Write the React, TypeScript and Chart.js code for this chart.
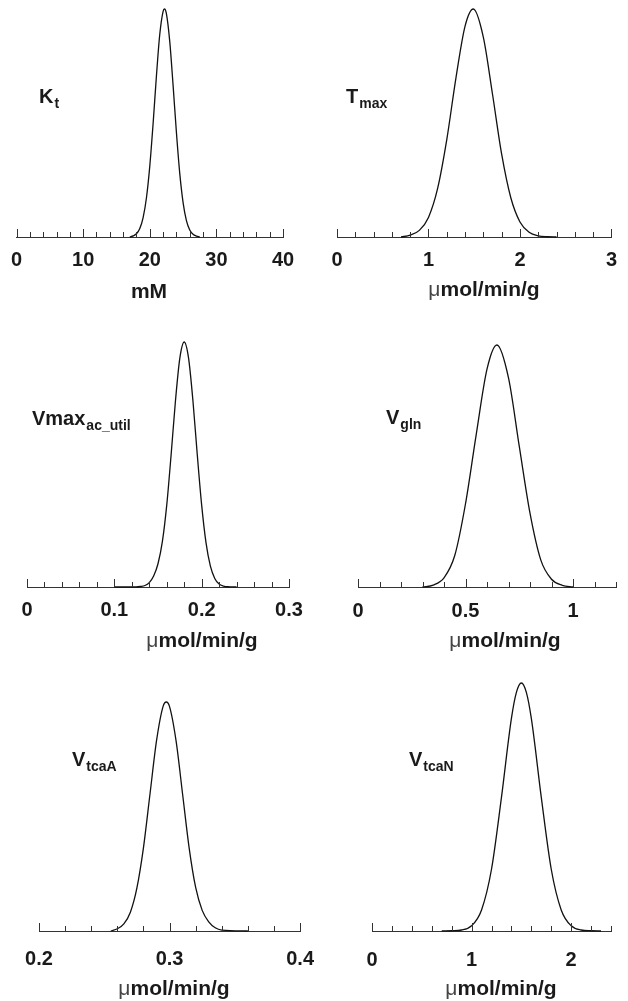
import React, { useEffect, useRef } from "react";
import { Chart, registerables } from "chart.js";

Chart.register(...registerables);

const FONT = '"Liberation Sans", Arial, Helvetica, sans-serif';

// ---------- data ----------
const ktX = [17, 17.5, 18, 18.5, 19, 19.5, 20, 20.5, 21, 21.5, 22, 22.2, 22.5, 23, 23.5, 24, 24.5, 25, 25.5, 26, 26.5, 27, 27.5];
const ktY = [0.0, 0.005, 0.014, 0.037, 0.085, 0.172, 0.311, 0.498, 0.707, 0.889, 0.99, 1.0, 0.979, 0.857, 0.665, 0.458, 0.279, 0.151, 0.072, 0.031, 0.012, 0.004, 0.0];
const ktTickValues = [0, 10, 20, 30, 40];
const ktTickLabels = ["0", "10", "20", "30", "40"];

const tmaxX = [0.7, 0.8, 0.9, 1.0, 1.1, 1.2, 1.3, 1.4, 1.49, 1.6, 1.7, 1.8, 1.9, 2.0, 2.1, 2.2, 2.3, 2.4];
const tmaxY = [0.0, 0.008, 0.029, 0.086, 0.213, 0.427, 0.697, 0.925, 1.0, 0.876, 0.626, 0.363, 0.172, 0.066, 0.021, 0.005, 0.001, 0.0];
const tmaxTickValues = [0, 1, 2, 3];
const tmaxTickLabels = ["0", "1", "2", "3"];

const vmaxX = [0.1, 0.125, 0.13, 0.135, 0.14, 0.145, 0.15, 0.155, 0.16, 0.165, 0.17, 0.175, 0.18, 0.185, 0.19, 0.195, 0.2, 0.205, 0.21, 0.215, 0.22, 0.225, 0.23, 0.24];
const vmaxY = [0.0, 0.0, 0.002, 0.006, 0.018, 0.045, 0.095, 0.185, 0.334, 0.539, 0.76, 0.934, 1.0, 0.934, 0.76, 0.539, 0.334, 0.18, 0.085, 0.035, 0.012, 0.004, 0.001, 0.0];
const vmaxTickValues = [0, 0.1, 0.2, 0.3];
const vmaxTickLabels = ["0", "0.1", "0.2", "0.3"];

const vglnX = [0.3, 0.35, 0.4, 0.45, 0.5, 0.55, 0.6, 0.646, 0.7, 0.75, 0.8, 0.85, 0.9, 0.95, 1.0];
const vglnY = [0.0, 0.008, 0.038, 0.13, 0.344, 0.631, 0.9, 1.0, 0.864, 0.582, 0.305, 0.112, 0.032, 0.007, 0.0];
const vglnTickValues = [0, 0.5, 1];
const vglnTickLabels = ["0", "0.5", "1"];

const vtcaAX = [0.255, 0.26, 0.265, 0.27, 0.275, 0.28, 0.285, 0.29, 0.295, 0.2975, 0.3, 0.305, 0.31, 0.315, 0.32, 0.325, 0.33, 0.335, 0.34, 0.36];
const vtcaAY = [0.0, 0.01, 0.031, 0.082, 0.188, 0.363, 0.597, 0.83, 0.98, 1.0, 0.98, 0.83, 0.597, 0.363, 0.19, 0.09, 0.04, 0.014, 0.004, 0.0];
const vtcaATickValues = [0.2, 0.3, 0.4];
const vtcaATickLabels = ["0.2", "0.3", "0.4"];

const vtcaNX = [0.7, 0.8, 0.9, 1.0, 1.1, 1.2, 1.3, 1.4, 1.45, 1.5, 1.55, 1.6, 1.7, 1.8, 1.9, 2.0, 2.1, 2.2, 2.3];
const vtcaNY = [0.0, 0.001, 0.004, 0.021, 0.085, 0.249, 0.539, 0.857, 0.962, 1.0, 0.962, 0.857, 0.539, 0.249, 0.085, 0.021, 0.004, 0.001, 0.0];
const vtcaNTickValues = [0, 1, 2];
const vtcaNTickLabels = ["0", "1", "2"];

// ---------- panel layout ----------
type Panel = {
  xs: number[];
  ys: number[];
  tickValues: number[];
  tickLabels: string[];
  min: number;
  max: number;
  step: number;
  label: string;
  sub: string;
  unitMu: string;
  unitRest: string;
  canvas: [number, number, number, number]; // left, top, width, height (page)
  area: [number, number, number, number]; // left, right, top, axisY (page)
  labelPos: [number, number];
  titlePos: [number, number];
  tickPad: number;
};

const panels: Panel[] = [
  {
    xs: ktX, ys: ktY, tickValues: ktTickValues, tickLabels: ktTickLabels,
    min: 0, max: 40, step: 2, label: "K", sub: "t", unitMu: "", unitRest: "mM",
    canvas: [0, 0, 330, 320], area: [15, 283, 9, 237],
    labelPos: [39, 103], titlePos: [149, 298], tickPad: 11,
  },
  {
    xs: tmaxX, ys: tmaxY, tickValues: tmaxTickValues, tickLabels: tmaxTickLabels,
    min: 0, max: 3, step: 0.2, label: "T", sub: "max", unitMu: "\u03bc", unitRest: "mol/min/g",
    canvas: [314, 0, 314, 320], area: [337, 620, 9, 237],
    labelPos: [346, 103], titlePos: [484, 296], tickPad: 11,
  },
  {
    xs: vmaxX, ys: vmaxY, tickValues: vmaxTickValues, tickLabels: vmaxTickLabels,
    min: 0, max: 0.3, step: 0.02, label: "Vmax", sub: "ac_util", unitMu: "\u03bc", unitRest: "mol/min/g",
    canvas: [0, 320, 330, 340], area: [27, 289, 342, 587],
    labelPos: [32, 425], titlePos: [202, 647], tickPad: 11,
  },
  {
    xs: vglnX, ys: vglnY, tickValues: vglnTickValues, tickLabels: vglnTickLabels,
    min: 0, max: 1.2, step: 0.1, label: "V", sub: "gln", unitMu: "\u03bc", unitRest: "mol/min/g",
    canvas: [314, 320, 314, 340], area: [358, 622, 345, 587],
    labelPos: [386, 424], titlePos: [505, 647], tickPad: 12,
  },
  {
    xs: vtcaAX, ys: vtcaAY, tickValues: vtcaATickValues, tickLabels: vtcaATickLabels,
    min: 0.2, max: 0.4, step: 0.02, label: "V", sub: "tcaA", unitMu: "\u03bc", unitRest: "mol/min/g",
    canvas: [0, 660, 330, 341], area: [39, 303, 702, 931],
    labelPos: [72, 766], titlePos: [174, 995], tickPad: 16,
  },
  {
    xs: vtcaNX, ys: vtcaNY, tickValues: vtcaNTickValues, tickLabels: vtcaNTickLabels,
    min: 0, max: 2.4, step: 0.2, label: "V", sub: "tcaN", unitMu: "\u03bc", unitRest: "mol/min/g",
    canvas: [314, 660, 314, 341], area: [372, 627, 683, 931],
    labelPos: [409, 766], titlePos: [501, 995], tickPad: 17,
  },
];

const AXIS_H = 45;

function PanelChart({ p }: { p: Panel }) {
  const ref = useRef<HTMLCanvasElement | null>(null);

  useEffect(() => {
    if (!ref.current) return;
    const [cL, cT, cW, cH] = p.canvas;
    const [aL, aR, aT, aY] = p.area;
    const n = Math.round((p.max - p.min) / p.step);
    const allTicks: number[] = [];
    for (let i = 0; i <= n; i++) allTicks.push(Number((p.min + i * p.step).toFixed(6)));
    const majorIndex = (v: number) => p.tickValues.findIndex((m) => Math.abs(m - v) < p.step / 10);

    const deco = {
      id: "deco",
      afterDraw(chart: any) {
        const ctx = chart.ctx as CanvasRenderingContext2D;
        const xs = chart.scales.x;
        const yAxis = chart.chartArea.bottom;
        ctx.save();
        ctx.strokeStyle = "#333";
        ctx.lineWidth = 1;
        xs.ticks.forEach((t: any) => {
          const px = Math.round(xs.getPixelForValue(t.value)) + 0.5;
          const len = majorIndex(t.value) >= 0 ? 8 : 5;
          ctx.beginPath();
          ctx.moveTo(px, yAxis);
          ctx.lineTo(px, yAxis - len);
          ctx.stroke();
        });
        // panel label with subscript
        ctx.fillStyle = "#1a1a1a";
        ctx.textBaseline = "alphabetic";
        ctx.textAlign = "left";
        const lx = p.labelPos[0] - cL;
        const ly = p.labelPos[1] - cT;
        ctx.font = `bold 20px ${FONT}`;
        ctx.fillText(p.label, lx, ly);
        const lw = ctx.measureText(p.label).width;
        ctx.font = `bold 14px ${FONT}`;
        ctx.fillText(p.sub, lx + lw + 1, ly + 5);
        // axis title
        ctx.font = `21px ${FONT}`;
        const muW = p.unitMu ? ctx.measureText(p.unitMu).width : 0;
        ctx.font = `bold 21px ${FONT}`;
        const restW = ctx.measureText(p.unitRest).width;
        const tx = p.titlePos[0] - cL - (muW + restW) / 2;
        const ty = p.titlePos[1] - cT;
        if (p.unitMu) {
          ctx.font = `21px ${FONT}`;
          ctx.fillStyle = "#444";
          ctx.fillText(p.unitMu, tx, ty);
        }
        ctx.font = `bold 21px ${FONT}`;
        ctx.fillStyle = "#1a1a1a";
        ctx.fillText(p.unitRest, tx + muW, ty);
        ctx.restore();
      },
    };

    const chart = new Chart(ref.current, {
      type: "line",
      data: {
        datasets: [
          {
            data: p.xs.map((x, i) => ({ x, y: p.ys[i] })),
            borderColor: "#111",
            borderWidth: 1.3,
            pointRadius: 0,
            fill: false,
            cubicInterpolationMode: "monotone",
            clip: false,
          } as any,
        ],
      },
      options: {
        animation: false,
        responsive: false,
        devicePixelRatio: 1,
        layout: {
          padding: {
            left: aL - cL,
            right: cL + cW - aR,
            top: aT - cT,
            bottom: cH - (aY - cT) - AXIS_H,
          },
        },
        plugins: { legend: { display: false }, tooltip: { enabled: false }, title: { display: false } },
        scales: {
          x: {
            type: "linear",
            min: p.min,
            max: p.max,
            offset: false,
            afterBuildTicks: (scale: any) => {
              scale.ticks = allTicks.map((v) => ({ value: v }));
            },
            afterFit: (scale: any) => {
              scale.height = AXIS_H;
            },
            grid: { display: true, drawOnChartArea: false, drawTicks: false },
            border: { display: true, color: "#333", width: 1 },
            ticks: {
              autoSkip: false,
              maxRotation: 0,
              minRotation: 0,
              padding: p.tickPad,
              color: "#1a1a1a",
              font: { family: FONT, size: 20, weight: "bold" },
              callback: (value: any) => {
                const i = majorIndex(Number(value));
                return i >= 0 ? p.tickLabels[i] : "";
              },
            },
          },
          y: { type: "linear", display: false, min: 0, max: 1 },
        },
      } as any,
      plugins: [deco],
    });
    return () => chart.destroy();
  }, [p]);

  return (
    <canvas
      ref={ref}
      width={p.canvas[2]}
      height={p.canvas[3]}
      style={{
        position: "absolute",
        left: p.canvas[0],
        top: p.canvas[1],
        width: p.canvas[2],
        height: p.canvas[3],
      }}
    />
  );
}

export default function App() {
  return (
    <div style={{ position: "fixed", left: 0, top: 0, width: 628, height: 1001, background: "#fff", overflow: "hidden" }}>
      {panels.map((p, i) => (
        <PanelChart key={i} p={p} />
      ))}
    </div>
  );
}
